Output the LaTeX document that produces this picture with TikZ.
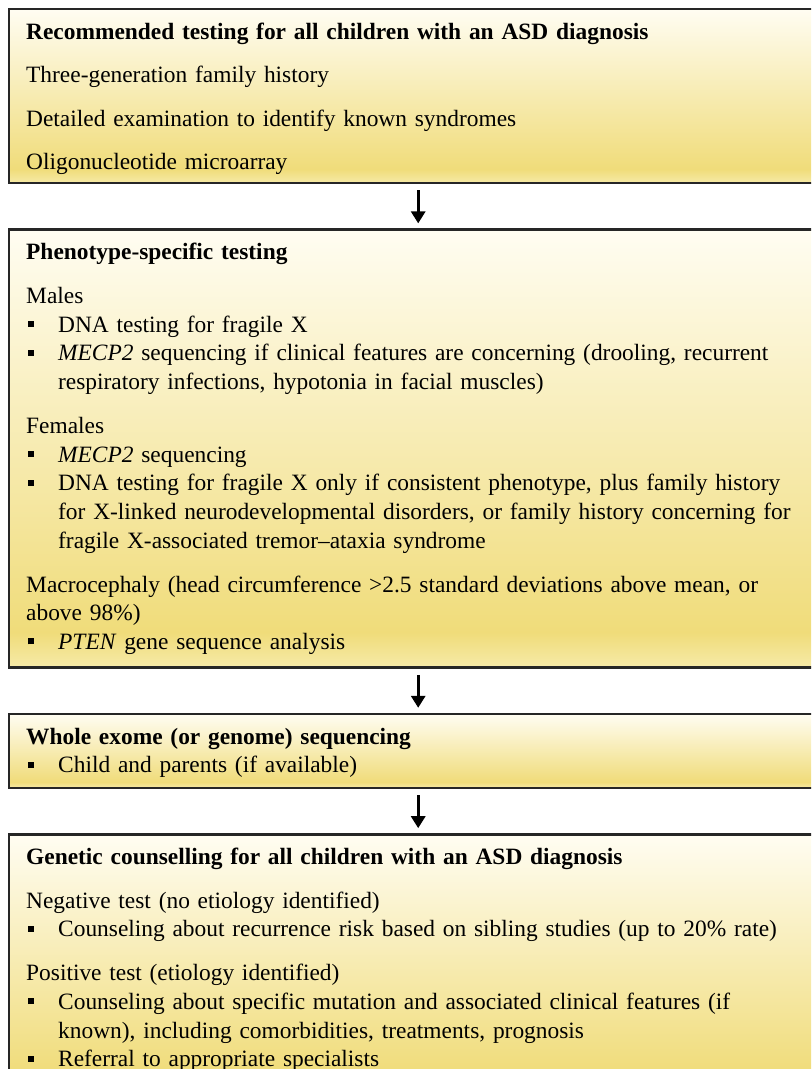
\documentclass[tikz,border=0pt]{standalone}
\usepackage{fontspec}
\setmainfont{Liberation Serif}
\usetikzlibrary{positioning, arrows.meta}

\definecolor{boxtop}{HTML}{FFFDF2}
\definecolor{boxdeep}{HTML}{F0DC7A}
\definecolor{boxbase}{HTML}{F6EAA8}
\pgfdeclareverticalshading{boxfill}{100bp}{color(0bp)=(boxbase); color(25bp)=(boxbase); color(29bp)=(boxdeep); color(75bp)=(boxtop); color(100bp)=(boxtop)}

\newcommand{\sqitem}[1]{\par\hangindent=16pt\hangafter=1\noindent\makebox[16pt][l]{\hspace{1pt}\rule[2.6pt]{3pt}{3pt}}#1}
\newcommand{\grp}{\par\vspace{7.4pt}}

\tikzstyle{box} = [rectangle, draw=black!85, line width=1.2pt, shading=boxfill, minimum width=409pt, text width=392pt, inner xsep=8.5pt, inner ysep=6pt, text height=9pt, align=left, font=\fontsize{11.7}{14.4}\selectfont]
\tikzstyle{edge} = [line width=1.6pt, -{Triangle[width=7pt,length=6pt]}, shorten <=3pt, shorten >=2.5pt]

\begin{document}
\begin{tikzpicture}

\useasboundingbox (0,0) rectangle (405.5pt,-534.5pt);
\clip (0,0) rectangle (405.5pt,-534.5pt);

\node (0) [box, text depth=66pt, anchor=north west] at (4pt,-4pt) {\textbf{Recommended testing for all children with an ASD diagnosis}\grp
Three-generation family history\grp
Detailed examination to identify known syndromes\grp
Oligonucleotide microarray};
\node (1) [box, text depth=198pt, below=22pt of 0] {\textbf{Phenotype-specific testing}\grp
Males
\sqitem{DNA testing for fragile X}
\sqitem{\textit{MECP2} sequencing if clinical features are concerning (drooling, recurrent\newline respiratory infections, hypotonia in facial muscles)}\grp
Females
\sqitem{\textit{MECP2} sequencing}
\sqitem{DNA testing for fragile X only if consistent phenotype, plus family history\newline for X-linked neurodevelopmental disorders, or family history concerning for\newline fragile X-associated tremor--ataxia syndrome}\grp
Macrocephaly (head circumference >2.5 standard deviations above mean, or\newline above 98\%)
\sqitem{\textit{PTEN} gene sequence analysis}};
\node (2) [box, text depth=16pt, below=22pt of 1] {\textbf{Whole exome (or genome) sequencing}
\sqitem{Child and parents (if available)}};
\node (3) [box, text depth=109pt, below=22pt of 2] {\textbf{Genetic counselling for all children with an ASD diagnosis}\grp
Negative test (no etiology identified)
\sqitem{Counseling about recurrence risk based on sibling studies (up to 20\% rate)}\grp
Positive test (etiology identified)
\sqitem{Counseling about specific mutation and associated clinical features (if\newline known), including comorbidities, treatments, prognosis}
\sqitem{Referral to appropriate specialists}};

\draw [edge] (0) -- (1);
\draw [edge] (1) -- (2);
\draw [edge] (2) -- (3);

\end{tikzpicture}
\end{document}
